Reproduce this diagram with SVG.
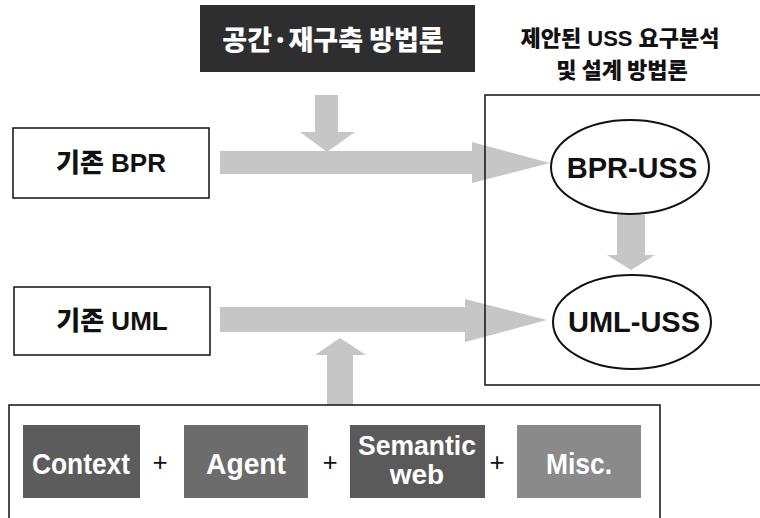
<svg xmlns="http://www.w3.org/2000/svg" width="760" height="518" viewBox="0 0 760 518">
<style>
.box{fill:#fff;stroke:#111;stroke-width:1.5}
.frame{fill:none;stroke:#111;stroke-width:1.5}
.ell{fill:#fff;stroke:#111;stroke-width:2}
.arr{fill:#c6c6c6}
.t{font-family:"Liberation Sans","Noto Sans CJK KR",sans-serif;font-weight:bold;fill:#111;text-anchor:middle}
.w{font-family:"Liberation Sans","Noto Sans CJK KR",sans-serif;font-weight:bold;fill:#fff;text-anchor:middle}
.k{font-family:"Noto Sans CJK KR",sans-serif;font-weight:900}
.plus{font-family:"Liberation Sans",sans-serif;fill:#111;text-anchor:middle;font-size:26px}
</style>
<rect width="760" height="518" fill="#fff"/>
<g id="connectors">
<polygon class="arr" points="315,95 338,95 338,132 355,132 327,152 300,132 315,132"/>
<polygon class="arr" points="220,151 472,151 472,142 550,163 472,183 472,174 220,174"/>
<polygon class="arr" points="617,215 645,215 645,255 655,255 631,270 607,255 617,255"/>
<polygon class="arr" points="220,307 465,307 465,299 547,320 465,342 465,332 220,332"/>
<polygon class="arr" points="327,405 327,355 315,355 340,338 366,355 353,355 353,405"/>
</g>
<g id="method-box">
<rect x="200" y="5" width="275" height="67" fill="#2e2e2e"/>
<text class="w k" x="333" y="50" font-size="27">공간·재구축 방법론</text>
</g>
<g id="proposed">
<rect class="frame" x="485" y="95" width="300" height="290"/>
<text class="t" x="620" y="46" font-size="22"><tspan class="k">제안된</tspan> USS <tspan class="k">요구분석</tspan></text>
<text class="t k" x="622" y="78" font-size="22">및 설계 방법론</text>
</g>
<g id="bpr">
<rect class="box" x="13" y="128" width="196" height="70"/>
<text class="t" x="111" y="172" font-size="26"><tspan class="k">기존</tspan> BPR</text>
</g>
<g id="uml">
<rect class="box" x="14" y="287" width="196" height="68"/>
<text class="t" x="112" y="330" font-size="26"><tspan class="k">기존</tspan> UML</text>
</g>
<g id="bpr-uss">
<ellipse class="ell" cx="630" cy="167" rx="79" ry="47"/>
<text class="t" x="632" y="178" font-size="29">BPR-USS</text>
</g>
<g id="uml-uss">
<ellipse class="ell" cx="632" cy="322" rx="79" ry="47"/>
<text class="t" x="634" y="332" font-size="29">UML-USS</text>
</g>
<g id="tech">
<rect class="box" x="9" y="405" width="651" height="130"/>
<rect x="23" y="425" width="117" height="73" fill="#5c5c5c"/>
<text class="w" x="81" y="474" font-size="29" textLength="98" lengthAdjust="spacingAndGlyphs">Context</text>
<text class="plus" x="160" y="471">+</text>
<rect x="184" y="425" width="124" height="73" fill="#6c6c6c"/>
<text class="w" x="246" y="474" font-size="29" textLength="80" lengthAdjust="spacingAndGlyphs">Agent</text>
<text class="plus" x="330" y="471">+</text>
<rect x="350" y="425" width="135" height="73" fill="#5a5a5a"/>
<text class="w" x="417" y="455" font-size="28" textLength="118" lengthAdjust="spacingAndGlyphs">Semantic</text>
<text class="w" x="417" y="484" font-size="28">web</text>
<text class="plus" x="497" y="471">+</text>
<rect x="517" y="425" width="124" height="73" fill="#8a8a8a"/>
<text class="w" x="579" y="474" font-size="29" textLength="66" lengthAdjust="spacingAndGlyphs">Misc.</text>
</g>
</svg>
